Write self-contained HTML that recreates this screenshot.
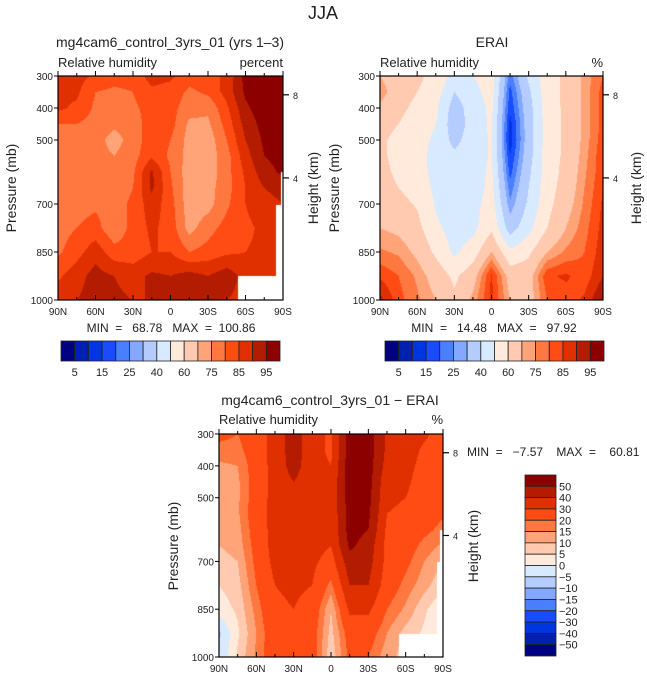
<!DOCTYPE html>
<html><head><meta charset="utf-8">
<style>
html,body{margin:0;padding:0;background:#fff;}
#root{position:relative;width:647px;height:682px;overflow:hidden;font-family:"Liberation Sans",sans-serif;color:#222;}
canvas{position:absolute;}
svg{position:absolute;left:0;top:0;}
svg text{font-family:"Liberation Sans",sans-serif;fill:#222;white-space:pre;}
</style></head>
<body>
<div id="root">
<canvas id="c1"></canvas>
<canvas id="c2"></canvas>
<canvas id="c3"></canvas>
<svg id="ov" width="647" height="682"></svg>
</div>
<script>
// ---- data ----
const LAT_LABELS = ["90N","60N","30N","0","30S","60S","90S"];
const PRES = [300,350,400,450,500,550,600,650,700,775,850,925,1000];
const PRES_TICKS = [300,400,500,700,850,1000];
const RH_LEVELS = [5,10,15,20,25,30,40,50,60,70,75,80,85,90,95];
const RH_LABELS = ["5","15","25","40","60","75","85","95"];
const DIFF_LEVELS = [-50,-40,-30,-20,-15,-10,-5,0,5,10,15,20,30,40,50];
const DIFF_LABELS = ["50","40","30","20","15","10","5","0","\u22125","\u221210","\u221215","\u221220","\u221230","\u221240","\u221250"];
const COLORS = ["#000080","#0020b0","#0036e0","#1a4cff","#4a80ff","#82a8ff","#b4ccff","#d8eaff","#ffeadc","#ffcab0","#ffa478","#ff7840","#ff4c14","#e03000","#b41c00","#8c0000"];
// columns: 90N,75N,60N,45N,30N,15N,0,15S,30S,45S,60S,75S,90S
const MODEL_RH = [
[87,87,84,82,82,87,86,82,83,86,97,98,98],
[86,86,80,79,80,84,83,79,81,87,96,98,98],
[86,84,79,78,79,82,82,77,76,84,94,98,98],
[80,80,78,76,78,82,82,74,74,82,92,97,98],
[78,78,77,73,77,83,80,73,72,80,90,96,97],
[78,78,77,75,78,84,79,73,72,78,88,95,97],
[78,78,78,76,79,91,80,72,72,78,86,93,96],
[78,78,78,77,80,91,81,72,73,78,85,90,92],
[78,78,79,78,81,88,82,72,73,79,85,88,90],
[78,80,82,76,82,86,83,73,78,82,84,86,88],
[79,83,88,82,82,85,85,80,82,84,85,86,86],
[84,88,92,90,88,91,90,92,90,93,88,87,86],
[88,90,92,91,90,90,93,91,92,90,88,87,86]];
const ERAI_RH = [
[70,64,62,57,47,50,55,22,42,56,62,72,80],
[74,64,60,55,40,47,54,18,38,56,62,72,82],
[68,62,58,52,35,45,52,16,36,55,62,72,82],
[64,60,56,50,34,44,52,13,35,55,62,72,82],
[62,57,54,48,37,45,51,12,35,55,62,72,83],
[62,57,53,47,42,45,51,15,36,55,62,73,84],
[63,58,54,47,44,45,52,18,38,55,63,74,84],
[64,60,56,48,44,45,53,22,40,56,64,75,85],
[66,63,59,49,45,46,55,26,42,57,66,76,86],
[70,68,63,52,46,47,58,35,47,60,70,78,87],
[76,74,68,58,48,55,70,52,58,70,76,80,88],
[84,80,74,66,58,66,86,66,66,84,86,82,90],
[92,82,76,70,62,72,86,70,66,80,82,86,96]];
const DIFF_RH = [
[22,20,25,34,45,34,28,55,55,38,36,32,25],
[18,18,25,34,45,34,28,56,55,38,36,28,24],
[14,15,24,34,44,34,30,56,55,36,34,26,24],
[13,14,24,34,40,34,32,56,54,33,32,25,23],
[13,14,24,34,37,34,33,55,53,32,30,25,22],
[12,14,25,34,36,35,32,55,52,30,28,24,21],
[12,13,24,34,37,35,32,54,50,28,26,22,18],
[10,12,23,34,36,34,30,52,46,27,24,18,14],
[8,10,22,33,34,32,26,46,44,27,22,15,10],
[5,8,20,30,32,30,18,40,40,25,18,12,6],
[2,6,17,28,30,26,10,32,32,20,14,6,0],
[-6,4,15,26,28,24,8,24,24,15,8,4,-2],
[-5,6,16,26,28,24,6,22,20,12,8,5,0]];

// ---- layout ----
const P1={x:58,y:76,w:225,h:224}, P2={x:380,y:76,w:223,h:224}, P3={x:219,y:434,w:224,h:223};

function colorFor(v,levels){let i=0;while(i<levels.length&&v>=levels[i])i++;return COLORS[i];}
function xScale(P,lat){return P.x+(90-lat)/180*P.w;}
function yScale(P,p){return P.y+(p-300)/700*P.h;}
function sample(grid,fx,p){
  const cx=fx*12; let c0=Math.min(11,Math.floor(cx)); const tx=cx-c0;
  let r0=0; while(r0<PRES.length-2&&p>PRES[r0+1])r0++;
  const ty=Math.max(0,Math.min(1,(p-PRES[r0])/(PRES[r0+1]-PRES[r0])));
  const a=grid[r0][c0]*(1-tx)+grid[r0][c0+1]*tx;
  const b=grid[r0+1][c0]*(1-tx)+grid[r0+1][c0+1]*tx;
  return a*(1-ty)+b*ty;
}
function drawField(id,P,grid,levels,whites){
  const cv=document.getElementById(id);
  cv.width=P.w;cv.height=P.h;cv.style.left=P.x+'px';cv.style.top=P.y+'px';
  const ctx=cv.getContext('2d');
  for(let py=0;py<P.h;py++){
    const p=300+(py+0.5)/P.h*700;
    for(let px=0;px<P.w;px++){
      ctx.fillStyle=colorFor(sample(grid,(px+0.5)/P.w,p),levels);
      ctx.fillRect(px,py,1,1);
    }
  }
  ctx.fillStyle='#fff';
  whites.forEach(r=>ctx.fillRect(r[0]-P.x,r[1]-P.y,r[2],r[3]));
}
drawField('c1',P1,MODEL_RH,RH_LEVELS,[[238,276,46,25],[281,172,3,110],[276,205,8,75]]);
drawField('c2',P2,ERAI_RH,RH_LEVELS,[]);
drawField('c3',P3,DIFF_RH,DIFF_LEVELS,[[399,634,45,24],[440,530,4,110],[437,562,7,75]]);

// ---- svg overlay ----
const NS="http://www.w3.org/2000/svg", svg=document.getElementById('ov');
function el(tag,attrs,txt){const e=document.createElementNS(NS,tag);for(const k in attrs)e.setAttribute(k,attrs[k]);if(txt!==undefined)e.textContent=txt;svg.appendChild(e);return e;}
function text(x,y,s,size,anchor,name,extra){
  const t=el('text',Object.assign({x:x,y:y,'font-size':size,'text-anchor':anchor||'start'},extra||{}),s);
  
  
  return t;
}
function axes(P,key){
  const f=el('rect',{x:P.x,y:P.y,width:P.w,height:P.h,fill:'none',stroke:'#000','stroke-width':1.2});
  
  
  for(let i=0;i<=12;i++){
    const lat=90-i*15, x=xScale(P,lat), L=(i%2==0)?5:3;
    el('line',{x1:x,y1:P.y,x2:x,y2:P.y-L,stroke:'#000','stroke-width':1});
    el('line',{x1:x,y1:P.y+P.h,x2:x,y2:P.y+P.h-L,stroke:'#000','stroke-width':1});
  }
  LAT_LABELS.forEach((s,i)=>{text(xScale(P,90-i*30),P.y+P.h+15,s,10,'middle',key+'-x-tick-label');});
  PRES_TICKS.forEach(p=>{const y=yScale(P,p);
    el('line',{x1:P.x,y1:y,x2:P.x-4,y2:y,stroke:'#000','stroke-width':1});
    text(P.x-5,y+4,String(p),10,'end',key+'-y-tick-label');});
  [[8,0.084],[4,0.455]].forEach(h=>{const y=P.y+h[1]*P.h;
    el('line',{x1:P.x+P.w,y1:y,x2:P.x+P.w+6,y2:y,stroke:'#000','stroke-width':1.2});
    text(P.x+P.w+10,y+4,String(h[0]),9,'start',key+'-height-tick-label');});
}
axes(P1,'model');axes(P2,'erai');axes(P3,'diff');

text(323,19,"JJA",18,'middle','figure-title',{fill:'#444'});
text(170,47,"mg4cam6_control_3yrs_01 (yrs 1\u20133)",14,'middle','model-panel-title',{fill:'#333'});
text(492,47,"ERAI",14,'middle','erai-panel-title',{fill:'#333'});
text(330,405,"mg4cam6_control_3yrs_01 \u2212 ERAI",14,'middle','diff-panel-title',{fill:'#333'});
text(58,67,"Relative humidity",13,'start','model-variable-label');
text(283,67,"percent",13,'end','model-units-label');
text(380,67,"Relative humidity",13,'start','erai-variable-label');
text(603,67,"%",13,'end','erai-units-label');
text(219,424,"Relative humidity",13,'start','diff-variable-label');
text(443,424,"%",13,'end','diff-units-label');
[[16,188,'model-y-axis-title','Pressure (mb)'],[318,188,'model-y2-axis-title','Height (km)'],
 [339,188,'erai-y-axis-title','Pressure (mb)'],[641,188,'erai-y2-axis-title','Height (km)'],
 [178,546,'diff-y-axis-title','Pressure (mb)'],[478,546,'diff-y2-axis-title','Height (km)']].forEach(a=>{
  text(a[0],a[1],a[3],14,'middle',a[2],{transform:'rotate(-90 '+a[0]+' '+a[1]+')',fill:'#444'});
});
text(171,332,"MIN  =   68.78   MAX  =  100.86",12,'middle','model-min-max');
text(494,332,"MIN  =   14.48   MAX  =   97.92",12,'middle','erai-min-max');
text(467,456,"MIN  =   \u22127.57    MAX  =    60.81",12,'start','diff-min-max');

function hbar(x0,y0,w,h,key){
  const bw=w/16;
  for(let i=0;i<16;i++){
    const r=el('rect',{x:x0+i*bw,y:y0,width:bw,height:h,fill:COLORS[i],stroke:'#222','stroke-width':0.8});
    
    
  }
  RH_LABELS.forEach((s,j)=>{text(x0+(2*j+1)*bw,y0+h+15,s,11,'middle',key+'-colorbar-label');});
}
hbar(61,341,219,20,'model');
hbar(385,341,219,20,'erai');
(function(){
  const x0=525,y0=475,w=31,h=181,bh=h/16;
  for(let i=0;i<16;i++){
    const r=el('rect',{x:x0,y:y0+i*bh,width:w,height:bh,fill:COLORS[15-i],stroke:'#222','stroke-width':0.8});
    
    
  }
  DIFF_LABELS.forEach((s,j)=>{text(559,y0+(j+1)*bh+4,s,11,'start','diff-colorbar-label');});
})();
</script>
</body></html>
